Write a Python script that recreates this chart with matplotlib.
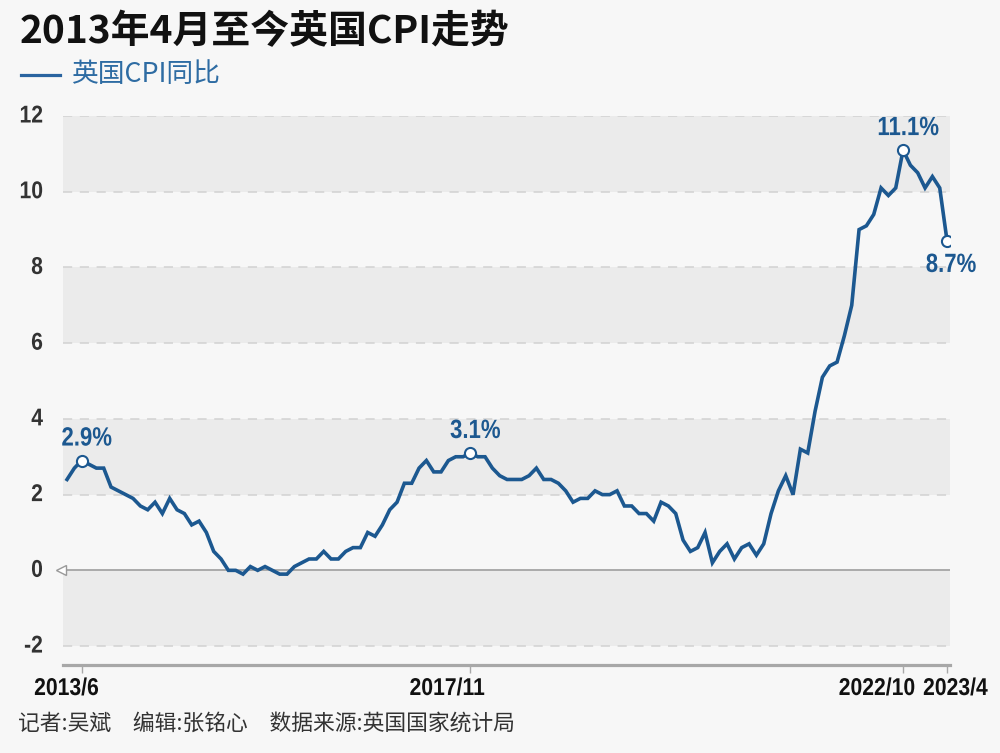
import matplotlib
matplotlib.use("Agg")
import matplotlib.pyplot as plt
from matplotlib.patheffects import AbstractPathEffect
from matplotlib.transforms import Affine2D

# ---- data (UK CPI yoy, %, 2013/4 - 2023/4) ----
cpi = [2.4, 2.7, 2.9, 2.8, 2.7, 2.7, 2.2, 2.1, 2.0,
       1.9, 1.7, 1.6, 1.8, 1.5, 1.9, 1.6, 1.5, 1.2, 1.3, 1.0, 0.5,
       0.3, 0.0, 0.0, -0.1, 0.1, 0.0, 0.1, 0.0, -0.1, -0.1, 0.1, 0.2,
       0.3, 0.3, 0.5, 0.3, 0.3, 0.5, 0.6, 0.6, 1.0, 0.9, 1.2, 1.6,
       1.8, 2.3, 2.3, 2.7, 2.9, 2.6, 2.6, 2.9, 3.0, 3.0, 3.1, 3.0,
       3.0, 2.7, 2.5, 2.4, 2.4, 2.4, 2.5, 2.7, 2.4, 2.4, 2.3, 2.1,
       1.8, 1.9, 1.9, 2.1, 2.0, 2.0, 2.1, 1.7, 1.7, 1.5, 1.5, 1.3,
       1.8, 1.7, 1.5, 0.8, 0.5, 0.6, 1.0, 0.2, 0.5, 0.7, 0.3, 0.6,
       0.7, 0.4, 0.7, 1.5, 2.1, 2.5, 2.0, 3.2, 3.1, 4.2, 5.1, 5.4,
       5.5, 6.2, 7.0, 9.0, 9.1, 9.4, 10.1, 9.9, 10.1, 11.1, 10.7, 10.5,
       10.1, 10.4, 10.1, 8.7]
months = list(range(len(cpi)))
tick_idx = [2, 55, 114, 120]
tick_labels = ["2013/6", "2017/11", "2022/10", "2023/4"]
yticks = [-2, 0, 2, 4, 6, 8, 10, 12]
annot_idx = [2, 55, 114, 120]
annot_text = ["2.9%", "3.1%", "11.1%", "8.7%"]

title = "2013年4月至今英国CPI走势"
legend_label = "英国CPI同比"
footer = "记者:吴斌　编辑:张铭心　数据来源:英国国家统计局"

# ---- style ----
plt.rcParams["font.family"] = ["Noto Sans CJK SC", "DejaVu Sans"]
LAT = "Liberation Sans"
BG = "#f7f7f7"
BAND = "#ebebeb"
BLUE = "#1c5890"


class Squeeze(AbstractPathEffect):
    """Horizontally condense text glyphs (narrow bold look)."""
    def __init__(self, sx=0.86, pivot="center"):
        super().__init__((0, 0))
        self.sx = sx
        self.pivot = pivot

    def draw_path(self, renderer, gc, tpath, affine, rgbFace=None):
        ext = tpath.get_extents()
        if self.pivot == "left":
            cx = 0.0
        elif self.pivot == "right":
            cx = ext.x1
        else:
            cx = 0.5 * (ext.x0 + ext.x1)
        t = Affine2D().translate(-cx, 0).scale(self.sx, 1).translate(cx, 0) + affine
        renderer.draw_path(gc, tpath, t, rgbFace)


fig = plt.figure(figsize=(10, 7.53), dpi=100, facecolor=BG)
ax = fig.add_axes([0.063, 1 - 665 / 753, 0.887, (665 - 116) / 753])
ax.set_facecolor(BG)
ax.set_xlim(-0.55, 120.4)
ax.set_ylim(-2.5, 12)

for lo, hi in [(-2, 0), (2, 4), (6, 8), (10, 12)]:
    ax.axhspan(lo, hi, color=BAND, lw=0, zorder=0)
for y in yticks:
    if y == 0:
        ax.axhline(0, color="#aaaaaa", lw=1.4, zorder=1)
    else:
        ax.axhline(y, color="#d2d2d2", lw=1.1, ls=(0, (6, 5)), zorder=1)

ax.plot(months, cpi, color=BLUE, lw=2.6, zorder=3, solid_joinstyle="miter")

# annotations
for i, t in zip(annot_idx, annot_text):
    ax.plot(months[i], cpi[i], "o", ms=8, mfc="white", mec=BLUE, mew=1.5, zorder=4)
    if t == "8.7%":
        off, va = (4, -12), "top"
    else:
        off, va = (5, 10), "bottom"
    ax.annotate(t, (months[i], cpi[i]), xytext=off, textcoords="offset pixels",
                ha="center", va=va, color=BLUE, fontsize=19, fontweight="bold",
                family=LAT, zorder=5, path_effects=[Squeeze(0.84, "center")])

# zero marker at left
ax.plot(-0.85, 0, marker="<", ms=7, mfc="white", mec="#999999", mew=1, clip_on=False, zorder=5)

# axes
for s in ["top", "right", "left"]:
    ax.spines[s].set_visible(False)
ax.spines["bottom"].set_color("#a8a8a8")
ax.spines["bottom"].set_linewidth(2.3)
ax.set_xticks([months[i] for i in tick_idx])
ax.set_xticklabels([])
ax.tick_params(axis="x", length=6, width=1, color="#a8a8a8")
ax.set_yticks(yticks)
ax.set_yticklabels([])
ax.tick_params(axis="y", length=0)

# x tick labels (right-aligned just past tick, last one to the right)
x_offsets = [(17, "right"), (14, "right"), (12, "right"), (-24, "left")]
for i, lab, (dx, ha) in zip(tick_idx, tick_labels, x_offsets):
    ax.annotate(lab, (months[i], 0), xycoords=("data", "axes fraction"),
                xytext=(dx, -12), textcoords="offset pixels", ha=ha, va="top",
                fontsize=17.5, fontweight="bold", family=LAT, color="#111111",
                path_effects=[Squeeze(0.87, ha)], annotation_clip=False)
# y tick labels
for v in yticks:
    ax.annotate(str(v), (0, v), xycoords=("axes fraction", "data"),
                xytext=(-20, 0), textcoords="offset pixels", ha="right", va="center",
                fontsize=17.5, fontweight="bold", family=LAT, color="#333333",
                path_effects=[Squeeze(0.87, "right")], annotation_clip=False)

# title, legend, footer
fig.text(0.020, 1 - 32 / 753, title, fontsize=28, fontweight="bold", va="center", ha="left", color="#111111")
fig.add_artist(plt.Line2D([0.021, 0.060], [1 - 75 / 753] * 2, color="#2a64a0", lw=2.3))
fig.text(0.071, 1 - 75 / 753, legend_label, fontsize=19.3, va="center", ha="left", color="#2e6ca3")
fig.text(0.018, 1 - 724 / 753, footer, fontsize=15.7, va="center", ha="left", color="#333333")

fig.savefig("out.png", dpi=100, facecolor=BG)
